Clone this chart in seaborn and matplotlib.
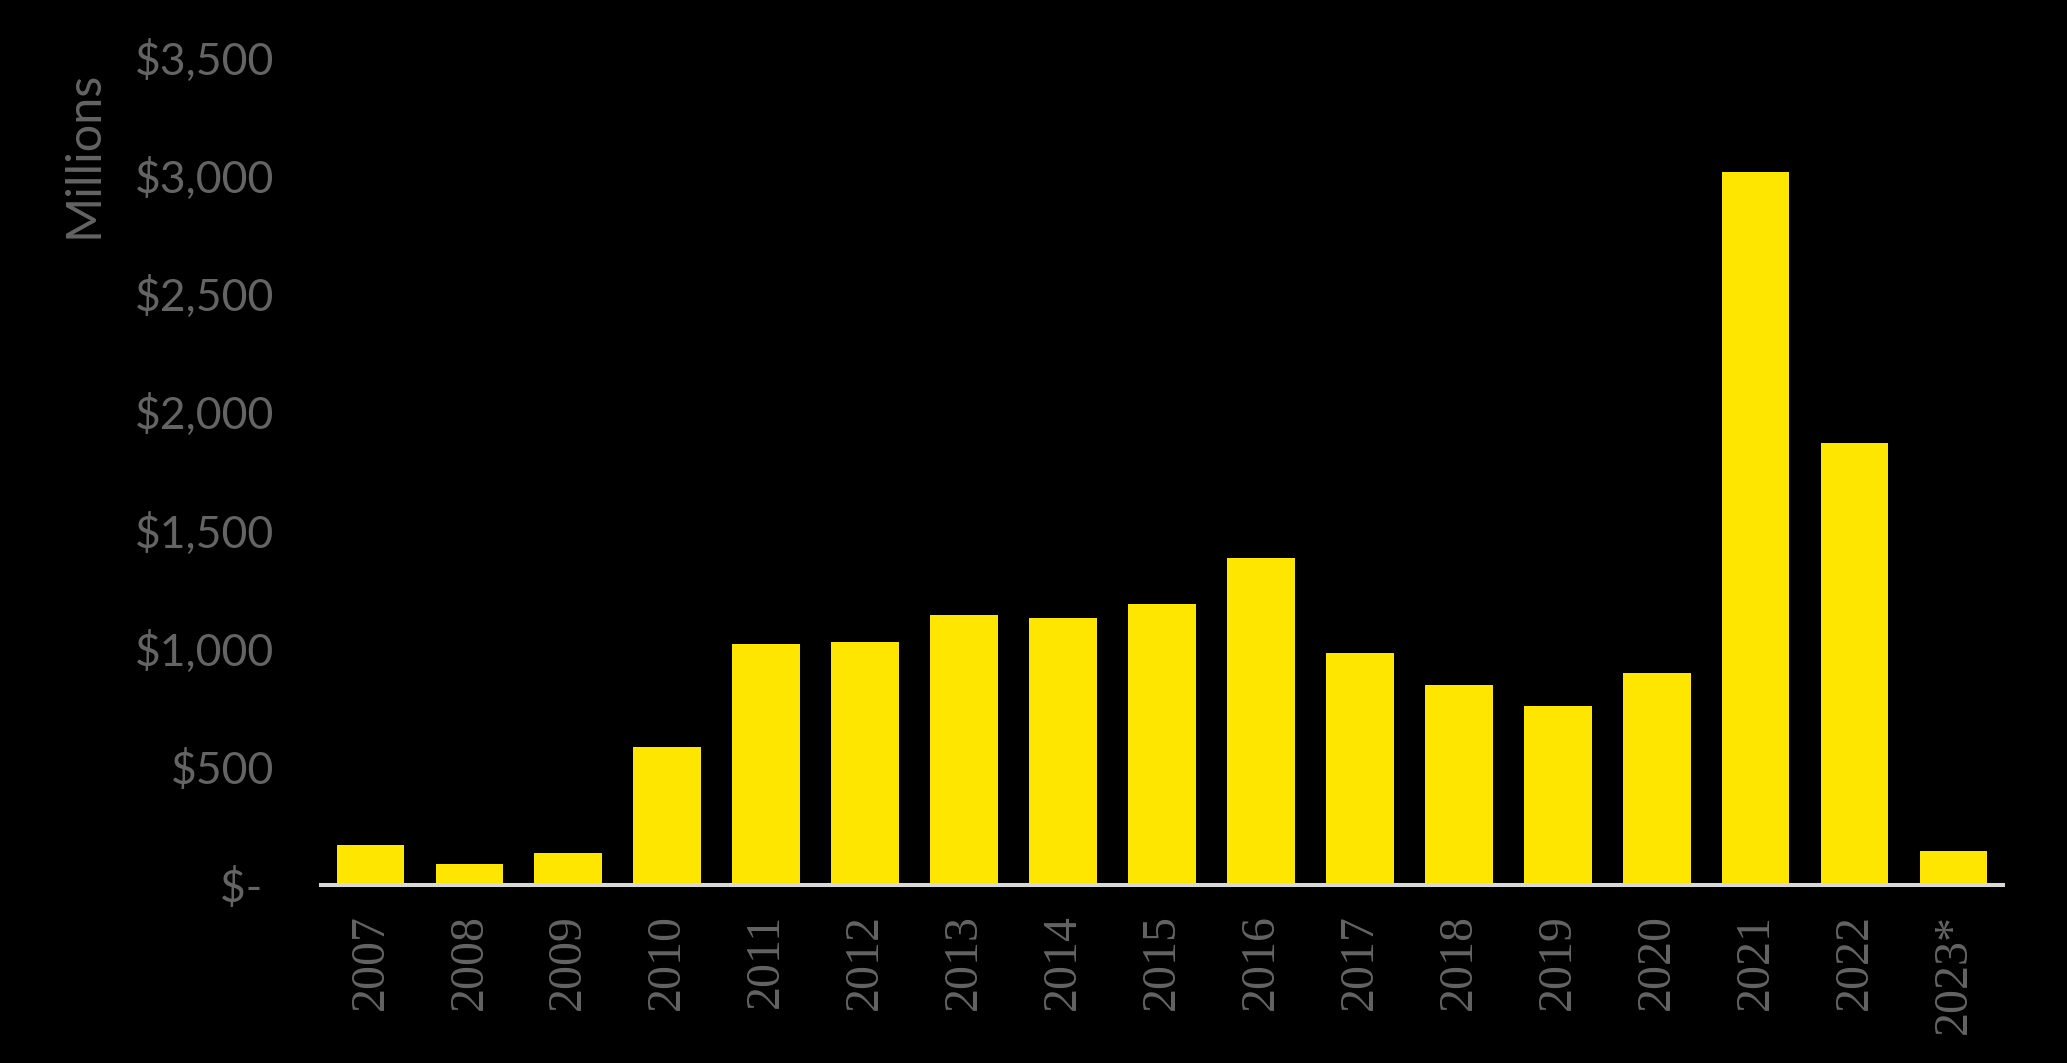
import numpy as np
import pandas as pd
import matplotlib
matplotlib.use("Agg")
import matplotlib.pyplot as plt
from matplotlib.ticker import FuncFormatter, MultipleLocator
import seaborn as sns

# ─── Data ─────────────────────────────────────────────────────────────────────
years = ["2007", "2008", "2009", "2010", "2011", "2012", "2013", "2014", "2015",
         "2016", "2017", "2018", "2019", "2020", "2021", "2022", "2023*"]
amounts = [170, 90, 135, 585, 1020, 1025, 1142, 1130, 1188,
           1383, 982, 846, 757, 895, 3012, 1868, 142]

BG = "#000000"
YELLOW = "#FFE600"
GREY = "#646464"
AXIS_LINE = "#d9d9d9"

sns.set_theme(style="white", rc={
    "axes.facecolor": BG,
    "figure.facecolor": BG,
})
plt.rcParams["font.family"] = ["Lato", "DejaVu Sans"]

df = pd.DataFrame({"year": years, "amount": amounts})

fig = plt.figure(figsize=(20.67, 10.63), dpi=100)
ax = fig.add_axes([0.1553, 0.1675, 0.8137, 0.7789])

sns.barplot(data=df, x="year", y="amount", color=YELLOW, saturation=1,
            width=0.685, edgecolor="none", linewidth=0, ax=ax)

ax.set_xlim(-0.5, len(years) - 0.5)
ax.set_ylim(0, 3500)
ax.yaxis.set_major_locator(MultipleLocator(500))


def money(v, _):
    if v == 0:
        return "$- "
    return f"${v:,.0f}"


ax.yaxis.set_major_formatter(FuncFormatter(money))

for side in ("top", "right", "left"):
    ax.spines[side].set_visible(False)
ax.spines["bottom"].set_color(AXIS_LINE)
ax.spines["bottom"].set_linewidth(2.9)

ax.tick_params(axis="y", length=0, pad=34, labelsize=32, labelcolor=GREY)
ax.tick_params(axis="x", length=0, pad=21, labelcolor=GREY, labelsize=34.5,
               labelrotation=90, labelfontfamily="Liberation Serif")

ax.set_xlabel("")
ax.set_ylabel("Millions", color=GREY, fontsize=35)
ax.yaxis.set_label_coords(-0.141, 0.882)
ax.yaxis.label.set_va("center")

fig.savefig("out.png", dpi=100, facecolor=BG)
